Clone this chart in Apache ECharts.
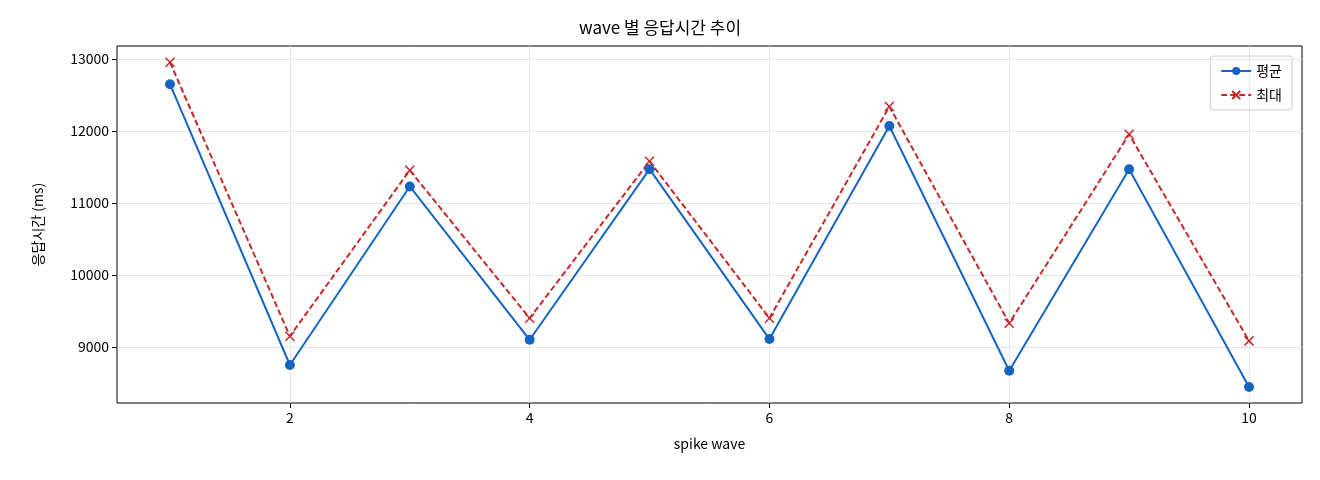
<!DOCTYPE html>
<html><head><meta charset="utf-8">
<script src="https://cdn.jsdelivr.net/npm/echarts@6/dist/echarts.min.js"></script>
<style>html,body{margin:0;padding:0;background:#fff}#c{width:1320px;height:480px}</style>
</head><body><div id="c"></div>
<script>
const waves = [1,2,3,4,5,6,7,8,9,10];
const avgVals = [12650,8750,11230,9100,11470,9110,12070,8670,11470,8445];
const maxVals = [12955,9150,11455,9400,11580,9400,12340,9330,11955,9085];
const xTicks = [2,4,6,8,10];
const yTicks = [9000,10000,11000,12000,13000];
const F = '"Noto Sans CJK KR", "DejaVu Sans", sans-serif';
const chart = echarts.init(document.getElementById('c'));
chart.setOption({
  animation:false,
  title:{text:'wave 별 응답시간 추이',left:'center',top:14,textStyle:{fontFamily:F,fontSize:17,fontWeight:'normal',color:'#000'}},
  legend:{right:28,top:56,orient:'vertical',itemGap:10,itemWidth:30,itemHeight:10,padding:[8,10],borderColor:'#ccc',borderWidth:1,borderRadius:3,
    textStyle:{fontFamily:F,fontSize:14,color:'#000'}},
  grid:{left:117,right:18,top:46,bottom:77,show:true,borderColor:'#000',borderWidth:1},
  xAxis:{type:'value',min:0.558,max:10.442,name:'spike wave',nameLocation:'middle',nameGap:34,
    nameTextStyle:{fontFamily:F,fontSize:14,color:'#000'},
    axisLine:{show:false},
    axisTick:{show:true,customValues:xTicks,length:5,lineStyle:{color:'#000'}},
    axisLabel:{customValues:xTicks,fontFamily:F,fontSize:14,color:'#000',margin:8},
    splitLine:{show:true,lineStyle:{color:'#e6e6e6'}}},
  yAxis:{type:'value',min:8222,max:13181,name:'응답시간 (ms)',nameLocation:'middle',nameGap:72,
    nameTextStyle:{fontFamily:F,fontSize:14,color:'#000'},
    axisLine:{show:false},
    axisTick:{show:true,customValues:yTicks,length:5,lineStyle:{color:'#000'}},
    axisLabel:{customValues:yTicks,formatter:v=>String(v),fontFamily:F,fontSize:14,color:'#000',margin:8},
    splitLine:{show:true,lineStyle:{color:'#e6e6e6'}}},
  series:[
    {name:'평균',type:'line',data:waves.map((w,i)=>[w,avgVals[i]]),symbol:'circle',symbolSize:10,
      lineStyle:{color:'#1565c0',width:2},itemStyle:{color:'#1565c0'},color:'#1565c0'},
    {name:'최대',type:'line',data:waves.map((w,i)=>[w,maxVals[i]]),
      symbol:'path://M0,0L10,10M10,0L0,10',symbolSize:9,
      lineStyle:{color:'#c62828',width:2,type:[6,3]},itemStyle:{color:'none',borderColor:'#c62828',borderWidth:1.5},color:'#c62828'}
  ]
});
</script></body></html>
